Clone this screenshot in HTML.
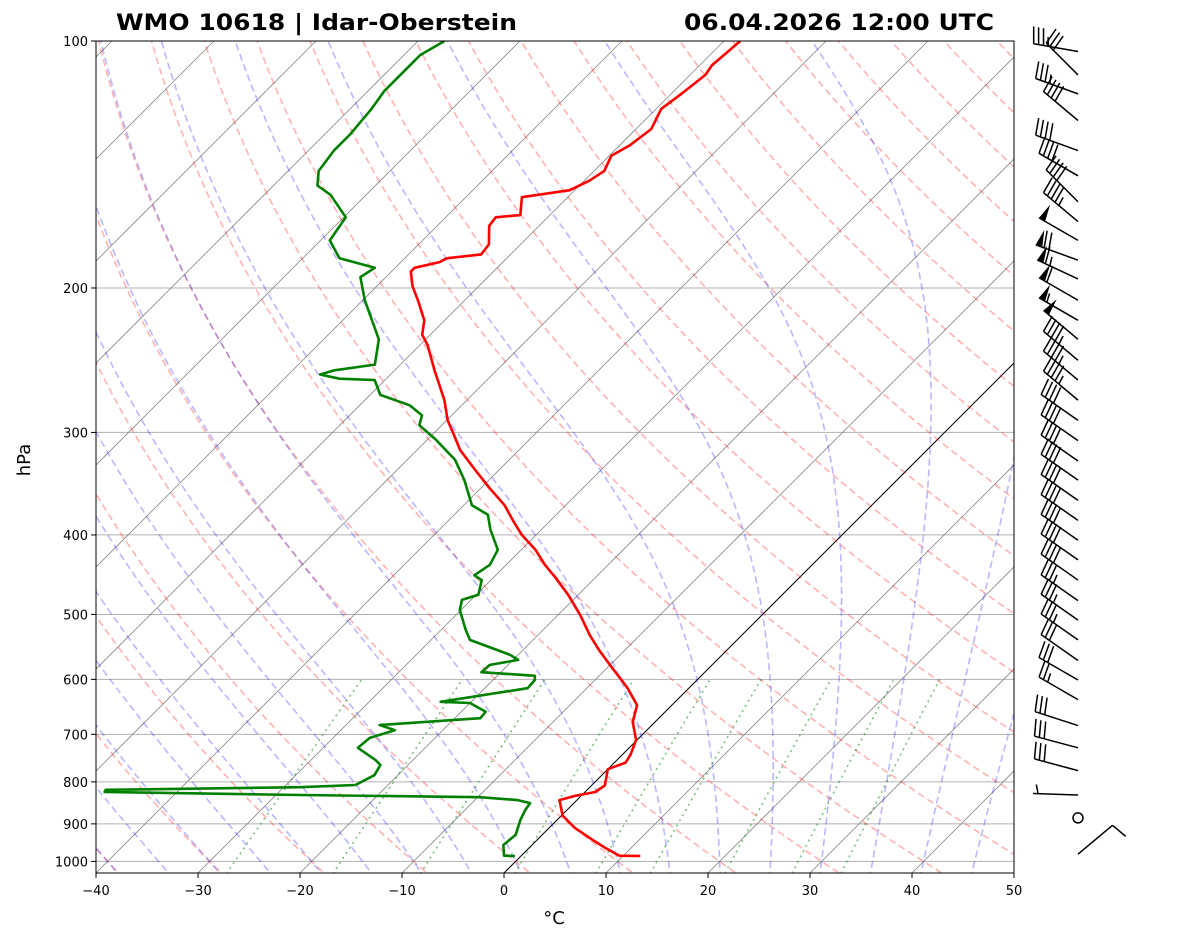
<!DOCTYPE html>
<html><head><meta charset="utf-8"><style>
body{margin:0;background:#fff;}
svg text{font-family:"DejaVu Sans","Liberation Sans",sans-serif;}
</style></head><body>
<svg id="c" width="1181" height="941" xmlns="http://www.w3.org/2000/svg">
<defs><clipPath id="clip"><rect x="96" y="41" width="918" height="832"/></clipPath></defs>
<rect x="0" y="0" width="1181" height="941" fill="#fff"/>
<g id="bg" clip-path="url(#clip)"></g>
<g id="series" clip-path="url(#clip)"></g>
<rect x="96" y="41" width="918" height="832" fill="none" stroke="#000" stroke-width="1"/>
<g id="axes"></g>
<g id="barbs"></g>
<text x="116" y="30" font-size="22" font-weight="bold" textLength="401" lengthAdjust="spacingAndGlyphs">WMO 10618 | Idar-Oberstein</text>
<text x="684" y="30" font-size="22" font-weight="bold" textLength="310" lengthAdjust="spacingAndGlyphs">06.04.2026 12:00 UTC</text>
<text x="30" y="460" font-size="18" text-anchor="middle" transform="rotate(-90 30 460)">hPa</text>
<text x="554" y="924" font-size="18" text-anchor="middle">°C</text>
</svg>
<script>
const tempP=[985,984,963,941,910,879,842,832,823,808,772,758,741,711,676,645,615,601,581,553,530,501,473,451,435,417,400,384,368,351,333,315,300,290,274,263,252,235,228,219,207,199,191,189,186,184,182,177,168,164,163,155,152,148,144,138,134,128,121,116,110,107,100];
const tempT=[11.7,9.6,7.5,5.4,2.5,0.1,-1.7,-0.6,1.0,1.3,0,1.1,0.8,-0.1,-2.2,-3.4,-6,-7.4,-9.5,-12.5,-14.9,-17.8,-21,-23.9,-26.2,-28.6,-31.4,-33.7,-36,-39.1,-42.4,-45.8,-48.2,-49.9,-52.2,-54.1,-56.1,-59.2,-60.8,-62,-64.6,-66.5,-68.1,-68.1,-66.2,-65.9,-62.9,-63.1,-64.9,-65.1,-62.9,-64.5,-60.5,-59.5,-59,-59.8,-59,-58.5,-59.5,-59,-58.5,-58.8,-58.4];
const dewP=[985,984,955,928,890,865,849,842,835,830,823,818,812,807,785,763,752,727,707,692,682,669,657,641,639,615,601,594,588,576,568,560,537,522,494,480,473,454,448,435,417,394,378,368,343,324,306,294,286,278,270,259,258,255,252,248,231,207,194,189,184,175,164,154,150,144,136,130,121,115,108,104,100];
const dewT=[-0.6,-1.7,-2.8,-2.6,-3.6,-4.1,-4.3,-5.8,-9.8,-27.6,-47.1,-47.2,-28.4,-23.2,-22.3,-22.7,-23.7,-26.6,-26.4,-24.7,-26.7,-17.5,-17.6,-20,-23,-15.8,-15.9,-16.3,-21.9,-21.8,-19.5,-20.8,-26.2,-27.6,-30.1,-30.9,-29.8,-30.9,-32.1,-31.6,-32.3,-35,-36.7,-39.2,-42.4,-45.3,-49.2,-52.2,-52.9,-55.1,-59,-61,-64.6,-66.9,-65.9,-62.5,-64.6,-69.8,-72.5,-72,-76.4,-79.1,-79.8,-83.5,-85.7,-87,-87.5,-87.5,-87.9,-88.4,-88.4,-88.4,-87.4];
const pTicks=[100,200,300,400,500,600,700,800,900,1000];
const tTicks=[-40,-30,-20,-10,0,10,20,30,40,50];
const windP=[980,885,830,775,727,683,635,601,569,537,508,481,454,429,406,384,363,343,325,307,290,274,259,245,231,219,207,195,185,175,166,157,146,136,125,116,110,103];
const windDir=[50,0,272,285,285,288,300,300,305,305,305,305,305,305,305,305,305,305,305,305,305,310,310,310,310,300,300,295,290,300,310,315,300,290,310,290,315,280];
const windKt=[10,0,5,30,30,30,25,30,30,35,35,35,40,40,40,40,40,40,40,40,40,45,45,45,50,55,60,65,70,50,45,40,40,40,40,35,30,35];

const NS='http://www.w3.org/2000/svg';
const y=p=>41+356.3*Math.log(p/100);
const x=(T,p)=>96+10.2*(T+40)+(873-y(p));
function mk(tag,attrs,parent){const e=document.createElementNS(NS,tag);for(const k in attrs)e.setAttribute(k,attrs[k]);parent.appendChild(e);return e;}
const bg=document.getElementById('bg'),se=document.getElementById('series'),ax=document.getElementById('axes'),bb=document.getElementById('barbs');
function path(pts){return 'M'+pts.map(q=>q[0].toFixed(1)+','+q[1].toFixed(1)).join('L');}
const levels=[];for(let p=1050;p>=99;p-=5)levels.push(p);

for(const p of pTicks){if(p==100)continue;const l=mk('line',{x1:96,x2:1014,y1:y(p),y2:y(p),stroke:'#b0b0b0','stroke-width':1},bg);

}
for(let T=-130;T<=50;T+=10){const l=mk('line',{x1:x(T,1050),y1:y(1050),x2:x(T,100),y2:y(100),stroke:T==0?'#000':'#888','stroke-width':T==0?1:0.8},bg);

}
for(let th=-40;th<=200;th+=10){const pts=levels.map(p=>[x((th+273.15)*Math.pow(p/1000,0.2857)-273.15,p),y(p)]);
const e=mk('path',{d:path(pts),fill:'none',stroke:'rgba(255,0,0,0.3)','stroke-width':1.6,'stroke-dasharray':'7,4'},bg);

}
function es(T){return 6.112*Math.exp(17.67*(T-273.15)/(T-29.65));}
function dTdp(T,p){const rs=0.622*es(T)/(p-es(T));return (1/p)*(287.04*T+2.501e6*rs)/(1005.7+2.501e6*2.501e6*rs*0.622/(287.04*T*T));}
for(let t0=-40;t0<=50;t0+=5){let T=t0+273.15,pts=[];let Td=T;
for(let p=1000;p<1050;p+=1){Td+=dTdp(Td,p);}pts.push([x(Td-273.15,1050),y(1050)]);
for(let p=1000;p>=100;p-=2){pts.push([x(T-273.15,p),y(p)]);T-=dTdp(T,p)*2;}
const e=mk('path',{d:path(pts),fill:'none',stroke:'rgba(0,0,255,0.28)','stroke-width':1.6,'stroke-dasharray':'7,4'},bg);

}
for(const w of [0.0004,0.001,0.002,0.004,0.007,0.01,0.016,0.024,0.032]){const pts=[];for(let p=1050;p>=600;p-=10){const e=p*w/(0.622+w),l=Math.log(e/6.112);pts.push([x(243.5*l/(17.67-l),p),y(p)]);}
const e=mk('path',{d:path(pts),fill:'none',stroke:'rgba(0,128,0,0.5)','stroke-width':1.6,'stroke-dasharray':'2,4'},bg);

}
const tl=mk('path',{d:path(tempP.map((p,i)=>[x(tempT[i],p),y(p)])),fill:'none',stroke:'#f00','stroke-width':2.6,'stroke-linejoin':'round'},se);


const dl=mk('path',{d:path(dewP.map((p,i)=>[x(dewT[i],p),y(p)])),fill:'none',stroke:'#008000','stroke-width':2.6,'stroke-linejoin':'round'},se);


for(const p of pTicks){mk('line',{x1:91,x2:96,y1:y(p),y2:y(p),stroke:'#000'},ax);
const t=mk('text',{x:88,y:y(p)+5,'font-size':13,'text-anchor':'end'},ax);t.textContent=p;

}
for(const T of tTicks){const px=96+10.2*(T+40);mk('line',{x1:px,x2:px,y1:873,y2:878,stroke:'#000'},ax);
const t=mk('text',{x:px,y:895,'font-size':13,'text-anchor':'middle'},ax);t.textContent=(T<0?'\u2212'+(-T):T);

}
windP.forEach((p,i)=>{const yy=y(p),bx=1078,kt=windKt[i],d=windDir[i]*Math.PI/180;
const g=mk('g',{},bb);


if(kt==0){mk('circle',{cx:bx,cy:yy,r:5,fill:'none',stroke:'#000','stroke-width':1.5},g);return;}
const L=45,ux=Math.sin(d),uy=-Math.cos(d),nx=-uy,ny=ux,ex=bx+ux*L,ey=yy+uy*L;
mk('line',{x1:bx,y1:yy,x2:ex,y2:ey,stroke:'#000','stroke-width':1.5},g);
let k=kt,pos=0;
while(k>=50){const sx=ex-ux*pos,sy=ey-uy*pos;mk('polygon',{points:`${sx},${sy} ${sx+nx*17-ux*3},${sy+ny*17-uy*3} ${sx-ux*7},${sy-uy*7}`,fill:'#000'},g);pos+=9;k-=50;}
while(k>=10){const sx=ex-ux*pos,sy=ey-uy*pos;mk('line',{x1:sx,y1:sy,x2:sx+ux*3+nx*17,y2:sy+uy*3+ny*17,stroke:'#000','stroke-width':1.5},g);pos+=5;k-=10;}
if(k>=5){const q=pos||5;const sx=ex-ux*q,sy=ey-uy*q;mk('line',{x1:sx,y1:sy,x2:sx+ux*2+nx*9,y2:sy+uy*2+ny*9,stroke:'#000','stroke-width':1.5},g);}
});
</script>
</body></html>
